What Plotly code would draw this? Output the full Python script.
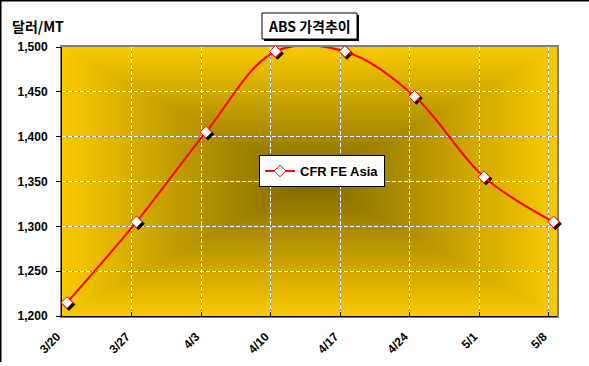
import numpy as np
import zlib, struct, base64
import plotly.graph_objects as go

# ---------------- data ----------------
dates = ["2008-03-20 12:00", "2008-03-27 12:00", "2008-04-03 12:00", "2008-04-10 12:00",
         "2008-04-17 12:00", "2008-04-24 12:00", "2008-05-01 12:00", "2008-05-08 12:00"]
prices = [1215, 1305, 1405, 1495, 1495, 1445, 1355, 1305]
tick_dates = ["2008-03-20", "2008-03-27", "2008-04-03", "2008-04-10",
              "2008-04-17", "2008-04-24", "2008-05-01", "2008-05-08"]
tick_labels = ["3/20", "3/27", "4/3", "4/10", "4/17", "4/24", "5/1", "5/8"]
series_name = "CFR FE Asia"
title_text = "ABS 가격추이"
ytitle_text = "달러/MT"

# ---------------- layout geometry ----------------
FW, FH = 589, 366
L, T = 62, 47
PW, PH = 495, 269          # plot area
SH = 2                     # marker shadow offset
R = FW - L - PW - SH
B = FH - T - PH - SH
AW, AH = PW + SH, PH + SH  # paper area


def px(x):
    return (x - L) / AW


def py(y):
    return 1 - (y - T) / AH


# ---------------- gradient background ----------------
def make_png(arr):
    h, w, _ = arr.shape
    raw = b"".join(b"\x00" + arr[i].tobytes() for i in range(h))

    def chunk(tag, data):
        c = struct.pack(">I", len(data)) + tag + data
        return c + struct.pack(">I", zlib.crc32(tag + data) & 0xffffffff)

    png = (b"\x89PNG\r\n\x1a\n"
           + chunk(b"IHDR", struct.pack(">IIBBBBB", w, h, 8, 2, 0, 0, 0))
           + chunk(b"IDAT", zlib.compress(raw, 9))
           + chunk(b"IEND", b""))
    return "data:image/png;base64," + base64.b64encode(png).decode()


gx = (np.arange(PW) + 0.5) / PW * 2 - 1
gy = (np.arange(PH) + 0.5) / PH * 2 - 1
tt = np.maximum(np.abs(gx)[None, :], np.abs(gy)[:, None])
edge = np.array([250, 202, 0], dtype=float)
center = np.array([128, 104, 0], dtype=float)
img = center[None, None, :] + (edge - center)[None, None, :] * tt[:, :, None]
img = np.clip(img, 0, 255).astype(np.uint8)
bg_uri = make_png(img)

FONT = "Liberation Sans, Arial, Noto Sans CJK KR, sans-serif"
KFONT = "Noto Sans CJK KR, Liberation Sans, sans-serif"

main_dx = [0, PW / AW]
main_dy = [SH / AH, 1]
shad_dx = [SH / AW, 1]
shad_dy = [0, PH / AH]

xrange_ = ["2008-03-20 00:00", "2008-05-08 20:30"]
yrange_ = [1200, 1500]

fig = go.Figure()

# subplot 1: grey solid grid + grey frame
fig.add_trace(go.Scatter(x=[], y=[], xaxis="x", yaxis="y", showlegend=False, hoverinfo="skip"))
# subplot 2: white dashed grid, axes, ticks, labels
fig.add_trace(go.Scatter(x=[], y=[], xaxis="x2", yaxis="y2", showlegend=False, hoverinfo="skip"))
# subplot 3: marker shadows
fig.add_trace(go.Scatter(x=dates, y=prices, xaxis="x3", yaxis="y3", mode="markers",
                         marker=dict(symbol="diamond", size=9, color="black",
                                     line=dict(color="black", width=1)),
                         cliponaxis=False, showlegend=False, hoverinfo="skip"))
# subplot 4: the series
fig.add_trace(go.Scatter(x=dates, y=prices, xaxis="x4", yaxis="y4", mode="lines+markers",
                         name=series_name,
                         line=dict(color="#FF0000", width=2, shape="spline", smoothing=1),
                         marker=dict(symbol="diamond", size=9, color="white",
                                     line=dict(color="#FF0000", width=1)),
                         cliponaxis=False))

hidden = dict(showgrid=False, showticklabels=False, showline=False, zeroline=False, ticks="",
              automargin=False)

fig.update_layout(
    width=FW, height=FH,
    margin=dict(l=L, r=R, t=T, b=B, pad=0, autoexpand=False),
    paper_bgcolor="white",
    plot_bgcolor="rgba(0,0,0,0)",
    font=dict(family=FONT, size=12, color="black"),
    xaxis=dict(type="date", range=xrange_, domain=main_dx, anchor="y", automargin=False,
               tickvals=tick_dates, showgrid=True, gridcolor="#808080", gridwidth=1,
               showticklabels=False, ticks="", zeroline=False,
               showline=True, linecolor="#808080", linewidth=2, mirror=True),
    yaxis=dict(range=yrange_, domain=main_dy, anchor="x", dtick=50, tick0=1200, automargin=False,
               showgrid=True, gridcolor="#808080", gridwidth=1,
               showticklabels=False, ticks="", zeroline=False,
               showline=True, linecolor="#808080", linewidth=2, mirror=True),
    xaxis2=dict(type="date", range=xrange_, domain=main_dx, anchor="y2", automargin=False,
                tickvals=tick_dates, ticktext=tick_labels, tickangle=-45,
                showgrid=True, gridcolor="white", gridwidth=1, griddash="4px,2px",
                ticks="inside", ticklen=4, tickcolor="black", tickwidth=1,
                ticklabelstandoff=8, ticklabelshift=-5,
                tickfont=dict(family=FONT, size=12, color="black", weight="bold"),
                zeroline=False, showline=True, linecolor="black", linewidth=1),
    yaxis2=dict(range=yrange_, domain=main_dy, anchor="x2", dtick=50, tick0=1200, automargin=False,
                tickformat=",d",
                showgrid=True, gridcolor="white", gridwidth=1, griddash="4px,2px",
                ticks="outside", ticklen=5, tickcolor="black", tickwidth=1,
                ticklabelstandoff=6,
                tickfont=dict(family=FONT, size=12, color="black", weight="bold"),
                zeroline=False, showline=True, linecolor="black", linewidth=1),
    xaxis3=dict(type="date", range=xrange_, domain=shad_dx, anchor="y3", **hidden),
    yaxis3=dict(range=yrange_, domain=shad_dy, anchor="x3", **hidden),
    xaxis4=dict(type="date", range=xrange_, domain=main_dx, anchor="y4", **hidden),
    yaxis4=dict(range=yrange_, domain=main_dy, anchor="x4", **hidden),
    showlegend=True,
    legend=dict(x=px(259), y=py(155), xanchor="left", yanchor="top",
                bgcolor="white", bordercolor="black", borderwidth=1,
                font=dict(family=FONT, size=13, color="black", weight="bold"),
                itemwidth=30),
    images=[dict(source=bg_uri, xref="paper", yref="paper", x=0, y=1,
                 sizex=PW / AW, sizey=PH / AH, xanchor="left", yanchor="top",
                 sizing="stretch", layer="below")],
    shapes=[
        # outer frame (top + left)
        dict(type="line", xref="paper", yref="paper", x0=px(0), x1=px(FW), y0=py(0.5), y1=py(0.5),
             line=dict(color="black", width=2)),
        dict(type="line", xref="paper", yref="paper", x0=px(0.5), x1=px(0.5), y0=py(0), y1=py(362),
             line=dict(color="black", width=2)),
        # title box shadow + box
        dict(type="rect", xref="paper", yref="paper", x0=px(264), x1=px(359), y0=py(15), y1=py(41),
             fillcolor="black", line=dict(width=0)),
        dict(type="rect", xref="paper", yref="paper", x0=px(262), x1=px(357), y0=py(13), y1=py(39),
             fillcolor="white", line=dict(color="black", width=1)),
    ],
    annotations=[
        dict(text=title_text, xref="paper", yref="paper", x=px(309.5), y=py(26),
             xanchor="center", yanchor="middle", showarrow=False,
             font=dict(family=KFONT, size=14, color="black", weight="bold")),
        dict(text=ytitle_text, xref="paper", yref="paper", x=px(10), y=py(26),
             xanchor="left", yanchor="middle", showarrow=False,
             font=dict(family=KFONT, size=14, color="black", weight="bold")),
    ],
)

fig.write_html("out.html", config={"displayModeBar": False},
               post_script="document.body.style.margin='0px';")
